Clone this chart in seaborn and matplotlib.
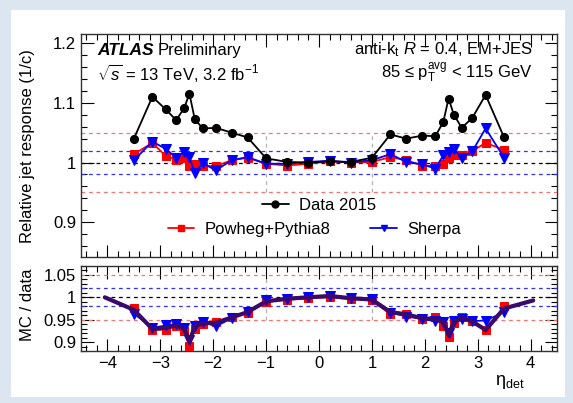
import numpy as np
import pandas as pd
import matplotlib
matplotlib.use("Agg")
import matplotlib.pyplot as plt
import seaborn as sns
from matplotlib.ticker import MultipleLocator, FixedLocator
from matplotlib.patches import Rectangle
from matplotlib.lines import Line2D

sns.set_theme(style="ticks")
plt.rcParams['font.family'] = ['Liberation Sans', 'DejaVu Sans']
plt.rcParams['mathtext.fontset'] = 'custom'
plt.rcParams['mathtext.rm'] = 'Liberation Sans'
plt.rcParams['mathtext.it'] = 'Liberation Sans:italic'
plt.rcParams['text.color'] = 'black'
plt.rcParams['axes.labelcolor'] = 'black'
plt.rcParams['xtick.color'] = 'black'
plt.rcParams['ytick.color'] = 'black'

# ---- data ----
eta = [-3.5, -3.15, -2.9, -2.7, -2.55, -2.45, -2.35, -2.2, -1.95, -1.65, -1.35, -1.0, -0.6,
       -0.2, 0.2, 0.6, 1.0, 1.35, 1.65, 1.95, 2.2, 2.35, 2.45, 2.55, 2.7, 2.9, 3.15, 3.5]
data2015 = [1.040, 1.110, 1.089, 1.071, 1.091, 1.115, 1.073, 1.057, 1.058, 1.050, 1.042, 1.007, 1.001,
            1.000, 1.002, 1.001, 1.008, 1.047, 1.040, 1.045, 1.044, 1.068, 1.107, 1.080, 1.058, 1.075, 1.113, 1.042]
powheg = [1.014, 1.033, 1.011, 1.005, 1.008, 0.994, 0.998, 0.994, 0.994, 1.004, 1.008, 0.998, 0.995,
          0.998, 1.002, 1.000, 1.001, 1.009, 1.004, 0.995, 0.994, 0.997, 1.008, 1.012, 1.012, 1.019, 1.033, 1.021]
sherpa = [1.004, 1.035, 1.023, 1.008, 1.018, 1.009, 0.982, 0.999, 0.987, 1.004, 1.009, 0.998, 0.998,
          1.001, 1.003, 1.000, 1.004, 1.014, 1.001, 0.997, 0.990, 1.012, 1.017, 1.023, 1.007, 1.019, 1.057, 1.008]

ratio_powheg = [0.975, 0.927, 0.928, 0.936, 0.925, 0.892, 0.930, 0.940, 0.945, 0.956, 0.966, 0.990, 0.994,
                0.998, 1.000, 0.996, 0.993, 0.962, 0.963, 0.951, 0.955, 0.935, 0.912, 0.942, 0.955, 0.948, 0.928, 0.980]
ratio_sherpa = [0.963, 0.932, 0.937, 0.940, 0.932, 0.905, 0.935, 0.945, 0.935, 0.953, 0.968, 0.993, 0.996,
                1.000, 1.002, 0.998, 0.996, 0.966, 0.957, 0.952, 0.946, 0.945, 0.920, 0.946, 0.951, 0.947, 0.948, 0.967]

combined_eta = [-4.05, -3.5, -3.15, -2.9, -2.7, -2.55, -2.45, -2.35, -2.2, -1.95, -1.65, -1.35, -1.0, -0.6,
                -0.2, 0.2, 0.6, 1.0, 1.35, 1.65, 1.95, 2.2, 2.35, 2.45, 2.55, 2.7, 2.9, 3.15, 3.5, 4.05]
combined = [1.000, 0.972, 0.929, 0.932, 0.937, 0.930, 0.901, 0.935, 0.942, 0.943, 0.955, 0.967, 0.991, 0.997,
            1.000, 1.003, 0.998, 0.995, 0.967, 0.962, 0.953, 0.952, 0.945, 0.916, 0.945, 0.954, 0.946, 0.927, 0.975, 0.993]

df = pd.DataFrame({"eta": eta, "data": data2015, "powheg": powheg, "sherpa": sherpa,
                   "r_powheg": ratio_powheg, "r_sherpa": ratio_sherpa})
dfc = pd.DataFrame({"eta": combined_eta, "comb": combined})

RED = "#ff0000"
BLUE = "#0000ff"
PURPLE = "#3a0a6a"
BG = "#dce6f1"

W, H = 573, 403
fig = plt.figure(figsize=(W / 100, H / 100), dpi=100)
fig.patch.set_facecolor(BG)
fig.patches.append(Rectangle((11 / W, 1 - 397 / H), (565 - 11) / W, (397 - 10) / H,
                             transform=fig.transFigure, facecolor="white", edgecolor="none", zorder=-10))

L, R = 81, 557
ax1 = fig.add_axes([L / W, 1 - 257 / H, (R - L) / W, (257 - 34) / H])
ax2 = fig.add_axes([L / W, 1 - 351 / H, (R - L) / W, (351 - 266) / H])

FS = 12

for ax, (ylo, yhi) in ((ax1, (0.842, 1.215)), (ax2, (0.88, 1.07))):
    ax.set_xlim(-4.5, 4.5)
    ax.set_ylim(ylo, yhi)
    ax.axhline(1.05, color="#ff7070", ls=(0, (3, 3)), lw=0.9, zorder=1)
    ax.axhline(0.95, color="#ff7070", ls=(0, (3, 3)), lw=0.9, zorder=1)
    ax.axhline(1.02, color="#3030ff", ls=(0, (3, 3)), lw=0.9, zorder=1)
    ax.axhline(0.98, color="#3030ff", ls=(0, (3, 3)), lw=0.9, zorder=1)
    ax.axhline(1.00, color="black", ls=(0, (3, 3)), lw=0.9, zorder=1)
    for xv in (-1, 1):
        ax.plot([xv, xv], [0.95, 1.05], color="#b0b0b0", ls=(0, (3, 3)), lw=0.9, zorder=1)
    ax.xaxis.set_major_locator(MultipleLocator(1))
    ax.xaxis.set_minor_locator(MultipleLocator(0.2))
    ax.tick_params(which="both", direction="in", top=True, right=True, labelsize=FS, colors="black")
    ax.tick_params(which="major", length=9, width=0.8)
    ax.tick_params(which="minor", length=4.5, width=0.8)
    for s in ax.spines.values():
        s.set_linewidth(1.0)
        s.set_color("#333333")

ax1.yaxis.set_major_locator(FixedLocator([0.9, 1.0, 1.1, 1.2]))
ax1.yaxis.set_minor_locator(MultipleLocator(0.02))
ax1.set_yticklabels(["0.9", "1", "1.1", "1.2"])
ax1.tick_params(labelbottom=False)
ax2.yaxis.set_major_locator(FixedLocator([0.9, 0.95, 1.0, 1.05]))
ax2.yaxis.set_minor_locator(MultipleLocator(0.01))
ax2.set_yticklabels(["0.9", "0.95", "1", "1.05"])
ax2.set_xticks([-4, -3, -2, -1, 0, 1, 2, 3, 4])
ax2.set_xticklabels(["\u22124", "\u22123", "\u22122", "\u22121", "0", "1", "2", "3", "4"])

# top panel
sns.lineplot(data=df, x="eta", y="powheg", ax=ax1, color=RED, marker="s", markersize=5.5,
             markeredgecolor=RED, lw=1.3, sort=False, zorder=3)
sns.lineplot(data=df, x="eta", y="sherpa", ax=ax1, color=BLUE, marker="v", markersize=6.5,
             markeredgecolor=BLUE, lw=1.3, sort=False, zorder=4)
sns.lineplot(data=df, x="eta", y="data", ax=ax1, color="black", marker="o", markersize=5.8,
             markeredgecolor="black", lw=1.3, sort=False, zorder=5)

# bottom panel
sns.lineplot(data=df, x="eta", y="r_powheg", ax=ax2, color=RED, marker="s", markersize=5.5,
             markeredgecolor=RED, lw=1.2, sort=False, zorder=3)
sns.lineplot(data=df, x="eta", y="r_sherpa", ax=ax2, color=BLUE, marker="v", markersize=6.5,
             markeredgecolor=BLUE, lw=1.2, sort=False, zorder=4)
sns.lineplot(data=dfc, x="eta", y="comb", ax=ax2, color=PURPLE, lw=3.0, sort=False, zorder=5)

for ax in (ax1, ax2):
    ax.set_xlabel("")
    ax.set_ylabel("")

# legends
h_data = Line2D([], [], color="black", marker="o", markersize=5, lw=1.3)
h_pow = Line2D([], [], color=RED, marker="s", markersize=5, lw=1.3)
h_sh = Line2D([], [], color=BLUE, marker="v", markersize=5, lw=1.3)
leg1 = ax1.legend([h_data], ["Data 2015"], loc="center", bbox_to_anchor=(0.5, 0.233),
                  frameon=False, fontsize=FS, handlelength=1.6, handletextpad=0.6, borderpad=0)
ax1.add_artist(leg1)
ax1.legend([h_pow, h_sh], ["Powheg+Pythia8", "Sherpa"], loc="center", bbox_to_anchor=(0.49, 0.123),
           frameon=False, fontsize=FS, ncol=2, handlelength=1.6, handletextpad=0.6,
           columnspacing=2.4, borderpad=0)

# annotations
tx = (97 - L) / (R - L)
ax1.text(tx, 0.928, "ATLAS", transform=ax1.transAxes, fontsize=FS + 0.5, fontweight="bold",
         fontstyle="italic", va="center", ha="left")
ax1.text(tx + 0.128, 0.928, "Preliminary", transform=ax1.transAxes, fontsize=FS, va="center", ha="left")
ax1.text(tx, 0.825, r"$\sqrt{s}$ = 13 TeV, 3.2 fb$^{-1}$", transform=ax1.transAxes,
         fontsize=FS, va="center", ha="left")
rx = (533 - L) / (R - L)
ax1.text(rx, 0.928, r"anti-k$_{\mathrm{t}}$ $R$ = 0.4, EM+JES", transform=ax1.transAxes, fontsize=FS,
         va="center", ha="right")
ax1.text(rx, 0.825, "85 \u2264 p$_{\\mathrm{T}}^{\\mathrm{avg}}$ < 115 GeV", transform=ax1.transAxes,
         fontsize=FS, va="center", ha="right")

fig.text(28 / W, 1 - 146 / H, "Relative jet response (1/c)", rotation=90, fontsize=FS,
         ha="center", va="center")
fig.text(28 / W, 1 - 305 / H, "MC / data", rotation=90, fontsize=FS, ha="center", va="center")
fig.text(510 / W, 1 - 382 / H, r"$\mathrm{\eta}_{\mathrm{det}}$", fontsize=FS + 1, ha="center", va="center")

fig.savefig("out.png", dpi=100, facecolor=fig.get_facecolor())
